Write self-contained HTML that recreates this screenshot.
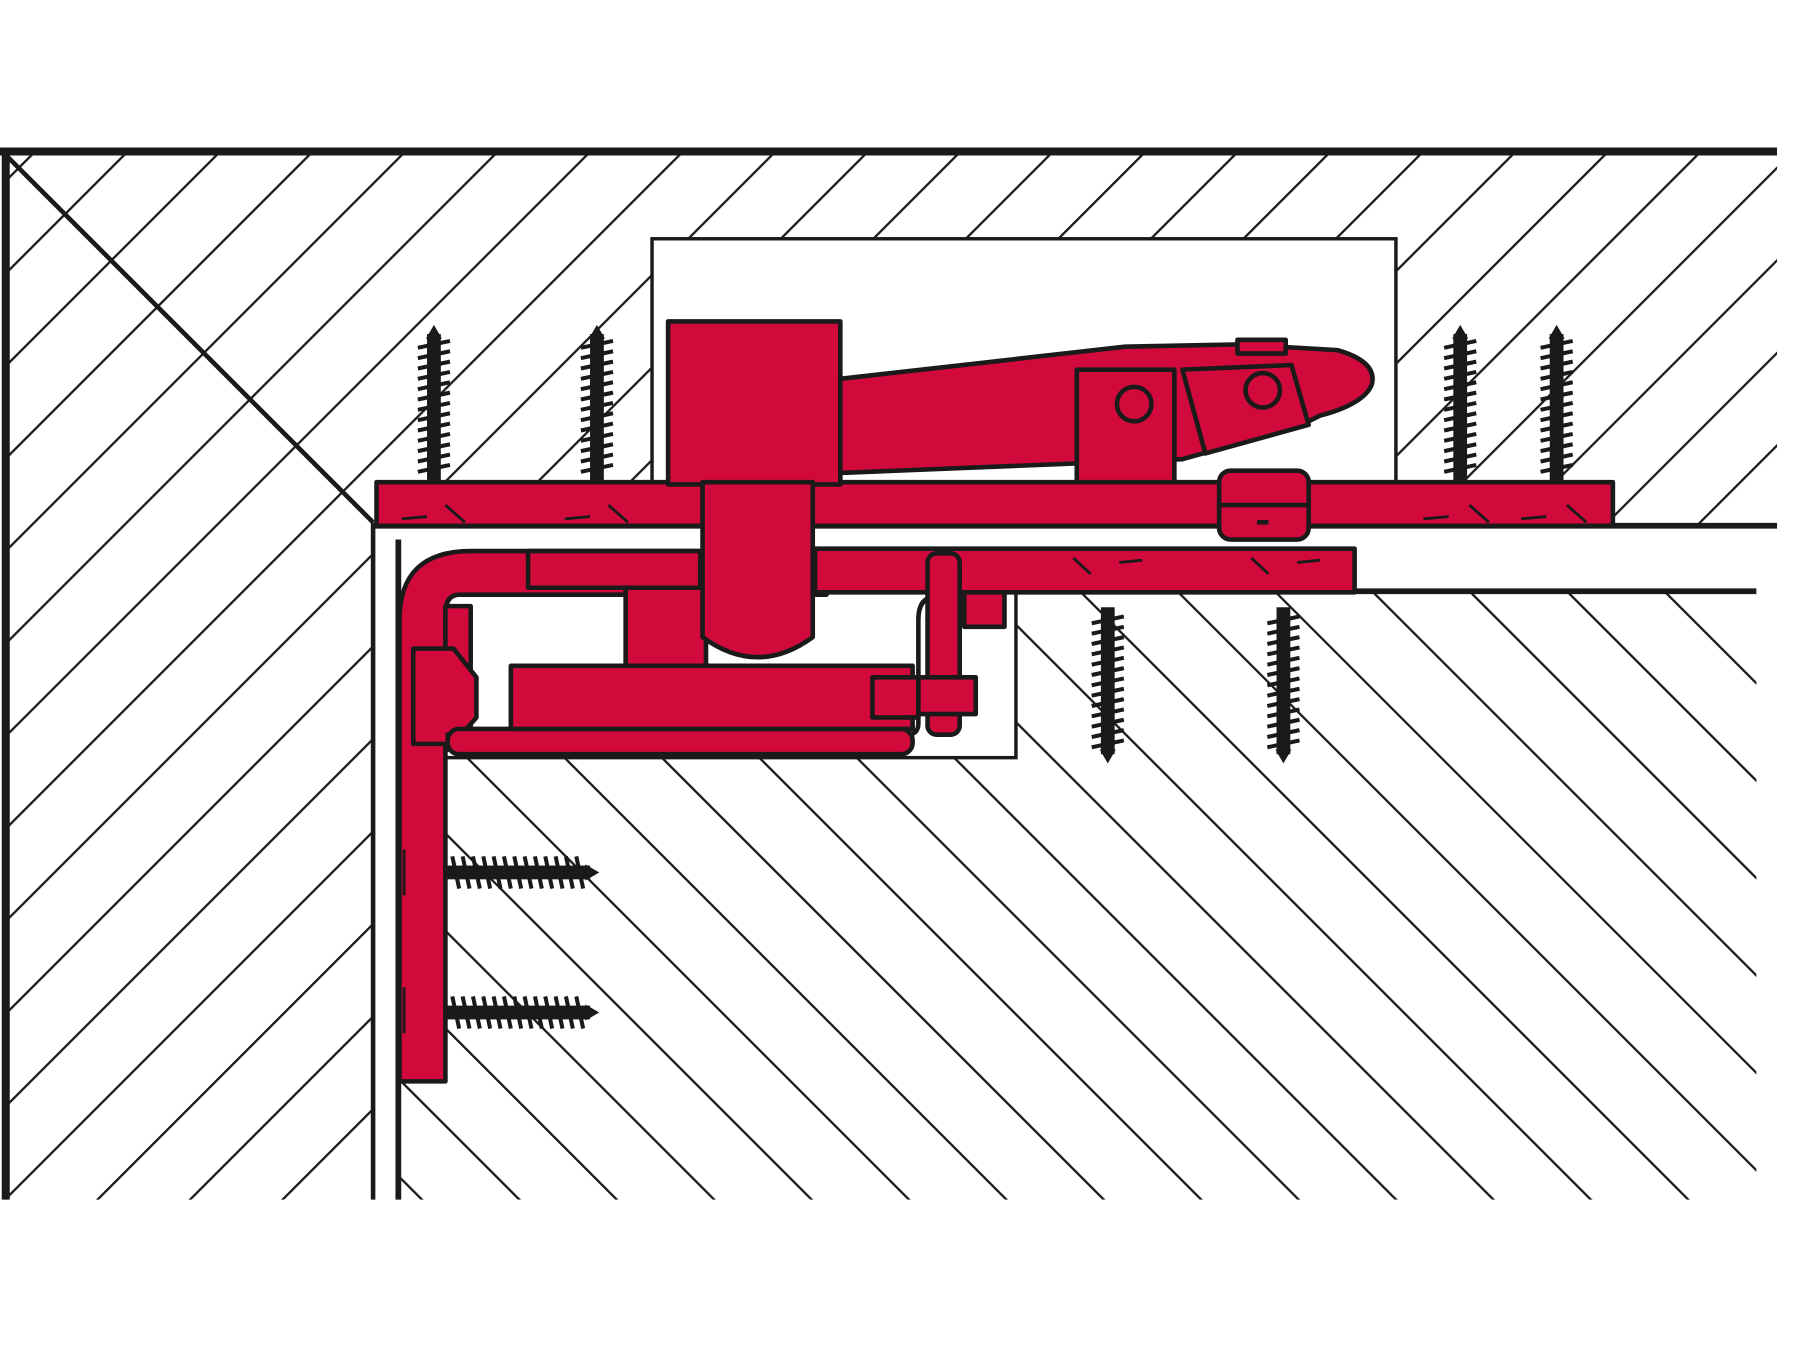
<!DOCTYPE html>
<html><head><meta charset="utf-8"><style>
html,body{margin:0;padding:0;background:#fff;}
svg{display:block;}
</style></head><body>
<svg width="1800" height="1350" viewBox="0 0 1568 1176" xmlns="http://www.w3.org/2000/svg">
<defs>
<pattern id="hu" width="57" height="57" patternUnits="userSpaceOnUse" patternTransform="rotate(45)">
<line x1="0" y1="0" x2="0" y2="57" stroke="#1a1a1a" stroke-width="4"/>
</pattern>
<pattern id="hd" width="60" height="60" patternUnits="userSpaceOnUse" patternTransform="rotate(-45)">
<line x1="0" y1="0" x2="0" y2="60" stroke="#1a1a1a" stroke-width="4"/>
</pattern>
<g id="screw">
<rect x="-6" y="8" width="12" height="128" fill="#1a1a1a"/>
<path d="M0,0 L-7,12 L7,12 Z" fill="#1a1a1a"/>
<g stroke="#1a1a1a" stroke-width="3.5">
<line x1="-14" y1="20" x2="14" y2="14"/><line x1="-14" y1="29" x2="14" y2="23"/>
<line x1="-14" y1="38" x2="14" y2="32"/><line x1="-14" y1="47" x2="14" y2="41"/>
<line x1="-14" y1="56" x2="14" y2="50"/><line x1="-14" y1="65" x2="14" y2="59"/>
<line x1="-14" y1="74" x2="14" y2="68"/><line x1="-14" y1="83" x2="14" y2="77"/>
<line x1="-14" y1="92" x2="14" y2="86"/><line x1="-14" y1="101" x2="14" y2="95"/>
<line x1="-14" y1="110" x2="14" y2="104"/><line x1="-14" y1="119" x2="14" y2="113"/>
<line x1="-14" y1="128" x2="14" y2="122"/>
</g>
</g>
</defs>
<rect width="1568" height="1176" fill="#fff"/>
<polygon points="5,135 1548,135 1548,458 325,458 325,1045 5,1045" fill="url(#hu)"/>
<rect x="345" y="515" width="1185" height="530" fill="url(#hd)"/>
<rect x="1180" y="460" width="388" height="55" fill="#fff"/>
<rect x="325" y="458" width="20" height="587" fill="#fff"/>
<rect x="568" y="208" width="648" height="212" fill="#fff" stroke="#1a1a1a" stroke-width="3"/>
<rect x="385" y="515" width="500" height="145" fill="#fff" stroke="#1a1a1a" stroke-width="3"/>
<line x1="0" y1="132" x2="1548" y2="132" stroke="#1a1a1a" stroke-width="7"/>
<line x1="5" y1="132" x2="5" y2="1045" stroke="#1a1a1a" stroke-width="7"/>
<line x1="5" y1="135" x2="325" y2="455" stroke="#1a1a1a" stroke-width="4"/>
<line x1="325" y1="455" x2="325" y2="1045" stroke="#1a1a1a" stroke-width="4"/>
<line x1="347" y1="470" x2="347" y2="1045" stroke="#1a1a1a" stroke-width="5"/>
<line x1="325" y1="458" x2="1548" y2="458" stroke="#1a1a1a" stroke-width="5"/>
<line x1="880" y1="515" x2="1530" y2="515" stroke="#1a1a1a" stroke-width="5"/>
<g fill="#d20a3c" stroke="#1a1a1a" stroke-width="4" stroke-linejoin="round">
<path d="M348,942 L348,540 Q348,480 410,480 L720,480 L720,518 L400,518 Q388,518 388,535 L388,942 Z"/>
<rect x="460" y="480" width="150" height="32"/>
<rect x="545" y="512" width="70" height="70"/>
<rect x="388" y="528" width="22" height="125"/>
<path d="M360,565 L395,565 L415,590 L415,625 L395,648 L360,648 Z"/>
<path d="M388,640 L790,640 Q800,640 800,630 L800,540 Q800,520 815,520 L835,520" fill="none" stroke-width="4"/>
<rect x="390" y="635" width="405" height="22" rx="10"/>
<rect x="710" y="478" width="470" height="38"/>
<rect x="840" y="516" width="35" height="30"/>
<rect x="328" y="420" width="1077" height="38"/>
<rect x="582" y="280" width="150" height="142"/>
<path d="M612,420 L708,420 L708,555 Q660,590 612,555 Z"/>
<rect x="445" y="580" width="350" height="55"/>
<rect x="760" y="590" width="40" height="35"/>
<rect x="808" y="482" width="28" height="158" rx="8"/>
<rect x="800" y="590" width="50" height="32"/>
<path d="M732,330 L980,302 L1080,300 L1165,305 Q1200,315 1195,335 Q1188,352 1150,362 L1130,372 L1030,400 L732,412 Z"/>
<rect x="938" y="322" width="85" height="98"/>
<path d="M1030,322 L1125,318 L1140,370 L1050,395 Z"/>
<rect x="1062" y="410" width="78" height="60" rx="10"/>
<rect x="1078" y="296" width="42" height="12"/>
</g>
<g fill="none" stroke="#1a1a1a" stroke-width="4">
<circle cx="988" cy="352" r="15"/><circle cx="1100" cy="340" r="15"/>
<line x1="1060" y1="440" x2="1140" y2="440"/>
<line x1="1095" y1="455" x2="1105" y2="455"/>
</g>
<use href="#screw" x="378" y="283"/>
<use href="#screw" x="520" y="283"/>
<use href="#screw" x="1272" y="283"/>
<use href="#screw" x="1356" y="283"/>
<use href="#screw" transform="translate(965,665) rotate(180)"/>
<use href="#screw" transform="translate(1118,665) rotate(180)"/>
<use href="#screw" transform="translate(522,760) rotate(90)"/>
<use href="#screw" transform="translate(522,882) rotate(90)"/>
<g stroke="#1a1a1a" stroke-width="2.5">
<line x1="350" y1="452" x2="372" y2="450"/><line x1="388" y1="440" x2="405" y2="455"/>
<line x1="492" y1="452" x2="514" y2="450"/><line x1="530" y1="440" x2="547" y2="455"/>
<line x1="1240" y1="452" x2="1262" y2="450"/><line x1="1280" y1="440" x2="1297" y2="455"/>
<line x1="1325" y1="452" x2="1347" y2="450"/><line x1="1365" y1="440" x2="1382" y2="455"/>
<line x1="935" y1="486" x2="950" y2="500"/><line x1="975" y1="490" x2="995" y2="488"/>
<line x1="1090" y1="486" x2="1105" y2="500"/><line x1="1130" y1="490" x2="1150" y2="488"/>
<line x1="352" y1="740" x2="352" y2="780"/><line x1="352" y1="860" x2="352" y2="900"/>
</g>
</svg>
</body></html>
